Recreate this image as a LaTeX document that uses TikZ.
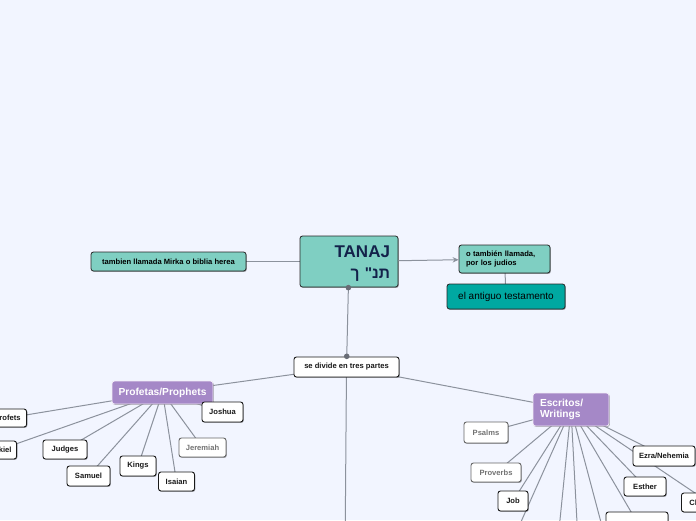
\documentclass[tikz,border=0pt]{standalone}
\usepackage{fontspec}
\setmainfont{Liberation Sans}
\newfontfamily\hebfont[Script=Hebrew]{Liberation Sans}
\usetikzlibrary{shadows,arrows.meta}
\definecolor{bgc}{HTML}{F2F5FF}
\definecolor{tealA}{HTML}{7FCFC2}
\definecolor{tealB}{HTML}{00A8A1}
\definecolor{purp}{HTML}{A588C7}
\definecolor{linec}{HTML}{8C929D}
\definecolor{navy}{HTML}{13224A}
\pgfdeclarelayer{bg}
\pgfdeclarelayer{lines}
\pgfsetlayers{bg,lines,main}
\begin{document}
\begin{tikzpicture}[x=1pt,y=-1pt,
  shad/.style={drop shadow={shadow xshift=0.8pt,shadow yshift=-0.9pt,opacity=0.35,fill=black}},
  base/.style={rounded corners=2.5pt,inner sep=0pt,shad},
  tealbox/.style={base,draw=black!85,fill=tealA,line width=0.8pt},
  leaf/.style={base,draw=black!90,fill=white,line width=0.9pt,text=black!90,
    font=\bfseries\fontsize{7.6}{9}\selectfont},
  leafg/.style={leaf,draw=black!60,text=black!55},
  purpbox/.style={base,draw=white!85!purp,fill=purp,line width=0.8pt,text=white,
    font=\bfseries\fontsize{10.2}{11.5}\selectfont},
  conn/.style={draw=linec,line width=1pt},
]
\useasboundingbox (0,0) rectangle (696,520);
\begin{pgfonlayer}{bg}
  \fill[bgc] (0,0) rectangle (696,520);
\end{pgfonlayer}

% central node
\node[tealbox,minimum width=98pt,minimum height=51pt,text width=82pt,align=right,text=navy,
  font=\bfseries\fontsize{15.5}{21}\selectfont]
  (tanaj) at (349,261.5)
  {\rule{0pt}{16pt}{\fontsize{17}{21}\selectfont TANAJ}\\
   {\hebfont\mbox{\mbox{ך}\mbox{\ }\mbox{"}\mbox{נ}\mbox{ת}}}};

\node[tealbox,minimum width=155pt,minimum height=19pt,font=\bfseries\fontsize{7.6}{9}\selectfont]
  (tamb) at (168.5,261.5) {tambien llamada Mirka o biblia herea};

\node[tealbox,minimum width=91pt,minimum height=28pt,text width=77pt,align=left,
  font=\bfseries\fontsize{7.6}{9.5}\selectfont]
  (otamb) at (504.5,259) {o también llamada,\\por los judios};

\node[tealbox,fill=tealB,minimum width=118pt,minimum height=25pt,font=\fontsize{10}{12}\selectfont]
  (antig) at (506,296.5) {el antiguo testamento};

\node[leaf,minimum width=105pt,minimum height=20pt] (divide) at (346.5,367) {se divide en tres partes};

\node[purpbox,minimum width=101pt,minimum height=23pt] (prof) at (162.5,392.5) {Profetas/Prophets};
\node[purpbox,minimum width=76pt,minimum height=33pt,text width=62pt,align=left] (escr) at (571,409.5) {Escritos/\\Writings};

% prophets children
\node[leaf,minimum height=18pt,inner xsep=6pt,anchor=east] (profets) at (27,418) {Profets};
\node[leaf,minimum height=18pt,inner xsep=5pt,anchor=east] (ezek) at (17,450) {Ezekiel};
\node[leaf,minimum width=44pt,minimum height=19pt] (judges) at (65,449.5) {Judges};
\node[leaf,minimum width=43pt,minimum height=20pt] (samuel) at (88.5,476) {Samuel};
\node[leaf,minimum width=36pt,minimum height=20pt] (kings) at (138,466) {Kings};
\node[leaf,minimum width=36pt,minimum height=19pt] (isaian) at (176.5,481.5) {Isaian};
\node[leafg,minimum width=47pt,minimum height=19pt] (jerem) at (202.5,447.5) {Jeremiah};
\node[leaf,minimum width=41pt,minimum height=20pt] (joshua) at (222.5,412) {Joshua};

% writings children
\node[leafg,minimum width=44pt,minimum height=21pt] (psalms) at (486,432.5) {Psalms};
\node[leafg,minimum width=50pt,minimum height=19pt] (prov) at (496,472.5) {Proverbs};
\node[leaf,minimum width=30pt,minimum height=20pt] (job) at (513,501) {Job};
\node[leaf,minimum width=42pt,minimum height=19pt] (esther) at (645,486.5) {Esther};
\node[leaf,minimum width=62pt,minimum height=20pt] (ezra) at (664,456) {Ezra/Nehemia};
\node[leaf,minimum height=19pt,inner xsep=8pt,anchor=west] (chron) at (681,502.5) {Chronicles};
\node[leaf,minimum width=62pt,minimum height=20pt] (bottom) at (637,522) {};

% free ends below the frame
\coordinate (d0) at (345,560);
\coordinate (w1) at (504,560);
\coordinate (w2) at (556,560);
\coordinate (w3) at (579,560);
\coordinate (w4) at (611,560);

% connectors
\draw[conn,-{Stealth[length=6pt,width=5.5pt]}] (tanaj) -- (otamb);
\draw[conn,shorten <=-2.5pt,shorten >=-2.5pt,
  {Circle[length=5.5pt,fill=linec!75!black,color=linec!75!black]}-{Circle[length=5.5pt,fill=linec!75!black,color=linec!75!black]}]
  (tanaj) -- (divide);
\begin{pgfonlayer}{lines}
  \draw[conn] (tanaj.center) -- (tamb.center);
  \draw[conn] (otamb.center) -- (antig.center);
  \draw[conn] (divide.center) -- (prof.center);
  \draw[conn] (divide.center) -- (escr.center);
  \draw[conn] (divide.center) -- (d0);
  \foreach \n in {profets,ezek,judges,samuel,kings,isaian,jerem,joshua}
    \draw[conn] (prof.center) -- (\n.center);
  \foreach \n in {psalms,prov,job,esther,ezra,chron,bottom,w1,w2,w3,w4}
    \draw[conn] (escr.center) -- (\n.center);
\end{pgfonlayer}
\end{tikzpicture}
\end{document}
